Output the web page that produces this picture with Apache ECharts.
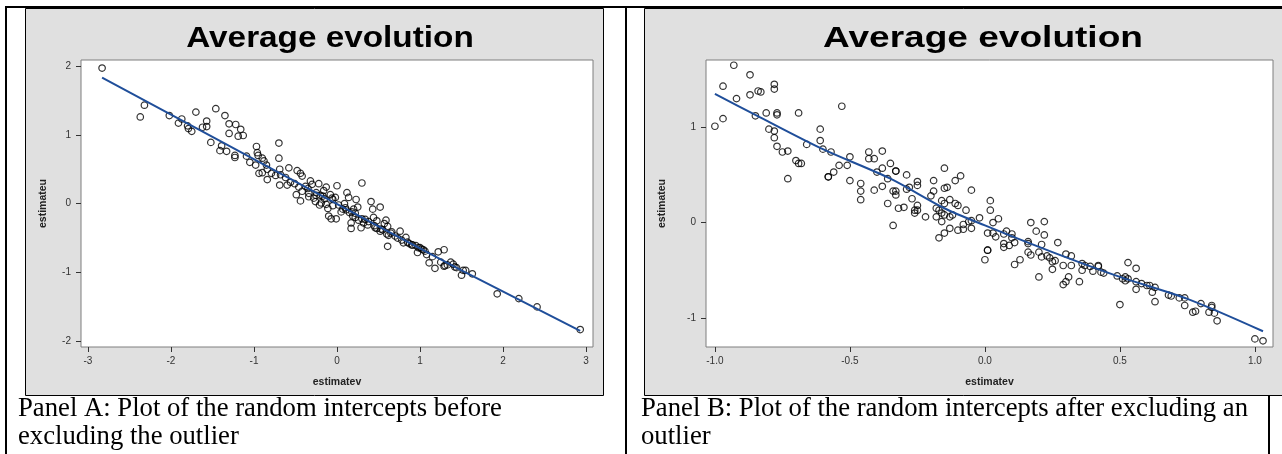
<!DOCTYPE html>
<html>
<head>
<meta charset="utf-8">
<script src="https://cdn.jsdelivr.net/npm/echarts@6/dist/echarts.min.js"></script>
<style>
  html, body { margin: 0; padding: 0; background: #fff; }
  #chart { width: 1282px; height: 454px; }
</style>
</head>
<body>
<div id="chart"></div>
<script>
// Panel A: before excluding the outlier
var aX = [-2.83, -2.37, -2.32, -2.02, -1.91, -1.87, -1.80, -1.79, -1.75, -1.70, -1.62, -1.57, -1.57, -1.52, -1.46,
  -1.39, -1.41, -1.35, -1.33, -1.30, -1.30, -1.22, -1.23, -1.23, -1.19, -1.16, -1.13, -1.09, -1.05, -0.98,
  -0.97, -0.96, -0.95, -0.94, -0.90, -0.88, -0.90, -0.85, -0.84, -0.84, -0.79, -0.74, -0.70, -0.70, -0.69,
  -0.68, -0.69, -0.62, -0.60, -0.58, -0.56, -0.51, -0.49, -0.48, -0.44, -0.42, -0.46, -0.44, -0.42, -0.38,
  -0.34, -0.32, -0.34, -0.30, -0.28, -0.26, -0.25, -0.22, -0.21, -0.19, -0.17, -0.16, -0.15, -0.13, -0.13,
  -0.11, -0.10, -0.08, -0.07, -0.06, -0.05, -0.02, -0.01, 0.00, 0.05, 0.07, 0.09, 0.11, 0.12, 0.14,
  0.15, 0.17, 0.17, 0.19, 0.20, 0.22, 0.23, 0.25, 0.26, 0.29, 0.30, 0.32, 0.34, 0.37, 0.41,
  0.43, 0.44, 0.46, 0.48, 0.52, 0.53, 0.57, 0.59, 0.61, 0.61, 0.62, 0.66, 0.73, 0.76, 0.80,
  0.83, 0.87, 0.91, 0.95, 0.97, 0.98, 1.02, 1.06, 1.08, 1.11, 1.15, 1.18, 1.22, 1.29, 1.25,
  1.29, 1.33, 1.37, 1.40, 1.44, 1.50, 1.52, 1.55, 1.63, 1.93, 2.19, 2.41, 2.93,
  0.55, 0.65, 0.70, 0.78, 0.85, 0.90, 1.00, 1.04, 0.22, 0.18, 0.30, 0.45, 0.38, -0.20, -0.25,
  -0.35, -0.05, 0.02, 0.10, 1.30, 1.42, 0.48, 0.52, 0.60];
var aY = [1.97, 1.26, 1.43, 1.28, 1.17, 1.23, 1.13, 1.09, 1.05, 1.33, 1.11, 1.20, 1.12, 0.89, 1.38,
  0.84, 0.77, 1.28, 0.76, 1.16, 1.02, 1.15, 0.70, 0.67, 0.98, 1.08, 0.99, 0.69, 0.60, 0.56,
  0.83, 0.74, 0.70, 0.44, 0.66, 0.62, 0.45, 0.56, 0.35, 0.50, 0.44, 0.41, 0.88, 0.66, 0.50,
  0.42, 0.27, 0.38, 0.27, 0.52, 0.31, 0.29, 0.13, 0.48, 0.44, 0.40, 0.24, 0.04, 0.18, 0.25,
  0.15, 0.33, 0.10, 0.28, 0.08, 0.03, 0.12, 0.29, -0.02, 0.01, 0.11, 0.19, 0.07, 0.24, -0.01,
  -0.07, -0.18, 0.13, -0.22, 0.08, -0.03, 0.09, -0.22, 0.26, -0.12, -0.08, 0.00, -0.09, 0.16, 0.09,
  -0.13, -0.36, -0.28, -0.18, -0.08, -0.20, 0.06, -0.05, -0.24, -0.35, 0.30, -0.28, -0.23, -0.31, 0.03,
  -0.08, -0.20, -0.35, -0.25, -0.05, -0.37, -0.29, -0.24, -0.33, -0.62, -0.46, -0.41, -0.50, -0.40, -0.57,
  -0.49, -0.58, -0.60, -0.61, -0.71, -0.64, -0.66, -0.69, -0.74, -0.86, -0.77, -0.94, -0.70, -0.67, -0.85,
  -0.91, -0.89, -0.85, -0.88, -0.93, -1.04, -0.97, -0.97, -1.02, -1.31, -1.38, -1.50, -1.83,
  -0.38, -0.43, -0.47, -0.53, -0.56, -0.60, -0.64, -0.67, -0.14, -0.12, -0.22, -0.32, -0.26, 0.12, 0.16,
  0.22, 0.06, -0.02, -0.06, -0.90, -0.92, -0.36, -0.40, -0.44];
var aLineX = [-2.83, -1.5, -0.5, 0.5, 1.5, 2.93];
var aLineY = [1.83, 0.97, 0.32, -0.33, -0.97, -1.85];

// Panel B: after excluding an outlier
var bX = [-1.00, -0.97, -0.97, -0.93, -0.92, -0.87, -0.87, -0.85, -0.84, -0.83, -0.81, -0.80, -0.78, -0.78, -0.78,
  -0.78, -0.77, -0.77, -0.77, -0.75, -0.73, -0.73, -0.70, -0.69, -0.69, -0.68, -0.66, -0.61, -0.61, -0.60,
  -0.58, -0.58, -0.57, -0.56, -0.54, -0.53, -0.51, -0.50, -0.50, -0.46, -0.46, -0.46, -0.43, -0.43, -0.41,
  -0.41, -0.40, -0.38, -0.38, -0.38, -0.36, -0.36, -0.35, -0.34, -0.34, -0.33, -0.33, -0.33, -0.33, -0.32,
  -0.30, -0.29, -0.29, -0.28, -0.27, -0.26, -0.26, -0.25, -0.25, -0.25, -0.25, -0.22, -0.20, -0.19, -0.19,
  -0.18, -0.18, -0.17, -0.17, -0.16, -0.16, -0.16, -0.15, -0.15, -0.15, -0.14, -0.15, -0.15, -0.13, -0.13,
  -0.13, -0.12, -0.11, -0.11, -0.10, -0.10, -0.09, -0.08, -0.08, -0.07, -0.06, -0.05, -0.05, -0.05, -0.02,
  0.00, 0.01, 0.01, 0.01, 0.02, 0.02, 0.03, 0.03, 0.04, 0.05, 0.07, 0.08, 0.07, 0.07, 0.09,
  0.10, 0.10, 0.11, 0.11, 0.13, 0.16, 0.16, 0.16, 0.17, 0.17, 0.19, 0.20, 0.20, 0.21, 0.21,
  0.22, 0.22, 0.23, 0.24, 0.25, 0.25, 0.26, 0.27, 0.29, 0.29, 0.30, 0.30, 0.31, 0.32, 0.32,
  0.35, 0.36, 0.36, 0.37, 0.39, 0.40, 0.42, 0.42, 0.43, 0.44, 0.49, 0.50, 0.51, 0.52, 0.52,
  0.53, 0.53, 0.56, 0.56, 0.56, 0.58, 0.60, 0.61, 0.62, 0.63, 0.63, 0.68, 0.69, 0.72, 0.74,
  0.74, 0.77, 0.78, 0.80, 0.83, 0.84, 0.84, 0.85, 0.86, 1.00, 1.03];
var bY = [1.01, 1.09, 1.43, 1.65, 1.30, 1.55, 1.34, 1.12, 1.38, 1.37, 1.15, 0.98, 1.45, 1.40, 0.96,
  0.89, 1.15, 1.13, 0.80, 0.74, 0.75, 0.46, 0.65, 1.15, 0.62, 0.62, 0.82, 0.86, 0.98, 0.77,
  0.48, 0.48, 0.74, 0.53, 0.60, 1.22, 0.60, 0.69, 0.44, 0.41, 0.33, 0.24, 0.74, 0.67, 0.67,
  0.34, 0.53, 0.57, 0.75, 0.38, 0.46, 0.20, 0.62, 0.33, -0.03, 0.54, 0.54, 0.29, 0.33, 0.15,
  0.16, 0.50, 0.35, 0.37, 0.25, 0.13, 0.10, 0.43, 0.18, 0.39, 0.13, 0.06, 0.28, 0.33, 0.44,
  0.06, 0.15, 0.13, -0.16, 0.01, 0.10, 0.23, 0.20, 0.57, 0.36, 0.37, 0.08, -0.11, 0.24, -0.06,
  0.06, 0.08, 0.44, 0.20, -0.08, 0.18, 0.49, -0.07, -0.02, 0.13, 0.01, 0.34, 0.02, -0.06, 0.05,
  -0.39, -0.29, -0.29, -0.11, 0.23, 0.13, 0.00, -0.11, -0.15, 0.04, -0.12, -0.09, -0.22, -0.26, -0.24,
  -0.16, -0.12, -0.44, -0.21, -0.39, -0.22, -0.20, -0.31, -0.34, 0.00, -0.09, -0.57, -0.31, -0.23, -0.36,
  0.01, -0.13, -0.35, -0.37, -0.49, -0.41, -0.40, -0.21, -0.45, -0.65, -0.62, -0.33, -0.57, -0.35, -0.45,
  -0.62, -0.50, -0.43, -0.45, -0.46, -0.51, -0.46, -0.45, -0.52, -0.53, -0.56, -0.86, -0.59, -0.57, -0.61,
  -0.42, -0.59, -0.62, -0.48, -0.70, -0.64, -0.66, -0.66, -0.73, -0.68, -0.83, -0.76, -0.77, -0.79, -0.87,
  -0.79, -0.94, -0.93, -0.85, -0.94, -0.87, -0.89, -0.95, -1.03, -1.22, -1.24];
var bLineX = [-1.0, -0.85, -0.6, -0.35, -0.15, 0.0, 0.25, 0.5, 0.75, 1.03];
var bLineY = [1.35, 1.13, 0.77, 0.46, 0.15, -0.03, -0.31, -0.57, -0.80, -1.14];

// tick labels
var aXTicks = [-3, -2, -1, 0, 1, 2, 3];
var aYTicks = [-2, -1, 0, 1, 2];
var bXTicks = [-1, -0.5, 0, 0.5, 1];
var bYTicks = [-1, 0, 1];

var titleText = 'Average evolution';
var captionA = ['Panel A: Plot of the random intercepts before', 'excluding the outlier'];
var captionB = ['Panel B: Plot of the random intercepts after excluding an', 'outlier'];

function pairs(xs, ys) {
  return xs.map(function (x, i) { return [x, ys[i]]; });
}

var chart = echarts.init(document.getElementById('chart'));

function makeX(idx, min, max, ticks, fmt) {
  return {
    type: 'value', gridIndex: idx, min: min, max: max, z: 6,
    name: 'estimatev', nameLocation: 'middle', nameGap: 30,
    nameTextStyle: { fontFamily: 'Liberation Sans', fontWeight: 'bold', fontSize: 10.5, color: '#222' },
    splitLine: { show: false },
    axisLine: { show: false, onZero: false },
    axisTick: { show: true, length: 5, customValues: ticks, lineStyle: { color: '#333' } },
    axisLabel: {
      customValues: ticks, margin: 9, fontSize: 10, fontFamily: 'Liberation Sans', color: '#333',
      formatter: fmt
    }
  };
}
function makeY(idx, min, max, ticks, gap) {
  return {
    type: 'value', gridIndex: idx, min: min, max: max, z: 6,
    name: 'estimateu', nameLocation: 'middle', nameGap: gap, nameRotate: 90,
    nameTextStyle: { fontFamily: 'Liberation Sans', fontWeight: 'bold', fontSize: 10.5, color: '#222' },
    splitLine: { show: false },
    axisLine: { show: false, onZero: false },
    axisTick: { show: true, length: 5, customValues: ticks, lineStyle: { color: '#333' } },
    axisLabel: { customValues: ticks, margin: 10, fontSize: 10, fontFamily: 'Liberation Sans', color: '#333' }
  };
}

var scatterStyle = { color: 'rgba(0,0,0,0)', borderColor: '#000', borderWidth: 1.2 };
var lineStyle = { color: '#1f4e9a', width: 2 };

function captionEl(x, y, text) {
  return {
    type: 'text', x: x, y: y, z: 10,
    style: { text: text, fontFamily: 'Liberation Serif', fontSize: 26.7, fill: '#000',
      textAlign: 'left', textVerticalAlign: 'middle' }
  };
}
function titleEl(x, sx) {
  return {
    type: 'text', x: x, y: 39, scaleX: sx, z: 10,
    style: { text: titleText, fontFamily: 'Liberation Sans', fontWeight: 'bold', fontSize: 30, fill: '#000',
      textAlign: 'center', textVerticalAlign: 'middle' }
  };
}
function lineEl(x1, y1, x2, y2, w) {
  return { type: 'line', z: 9, shape: { x1: x1, y1: y1, x2: x2, y2: y2 }, style: { stroke: '#000', lineWidth: w } };
}

chart.setOption({
  animation: false,
  graphic: [
    { type: 'rect', z: 1, shape: { x: 25.5, y: 8.5, width: 578, height: 387 }, style: { fill: '#e0e0e0', stroke: '#000', lineWidth: 1 } },
    { type: 'rect', z: 1, shape: { x: 644.5, y: 8.5, width: 660, height: 387 }, style: { fill: '#e0e0e0', stroke: '#000', lineWidth: 1 } },
    lineEl(6, 7, 1282, 7, 2),
    lineEl(6, 6, 6, 454, 2),
    lineEl(626, 6, 626, 454, 2),
    lineEl(1269, 395, 1269, 454, 2),
    titleEl(330, 1.11),
    titleEl(983, 1.235),
    captionEl(18, 409, captionA[0]),
    captionEl(18, 437, captionA[1]),
    captionEl(641, 409, captionB[0]),
    captionEl(641, 437, captionB[1])
  ],
  grid: [
    { left: 81, top: 60, width: 512, height: 287, show: true, z: 5, backgroundColor: '#fff', borderColor: '#7f7f7f', borderWidth: 1 },
    { left: 706, top: 60, width: 567, height: 287, show: true, z: 5, backgroundColor: '#fff', borderColor: '#7f7f7f', borderWidth: 1 }
  ],
  xAxis: [
    makeX(0, -3.084, 3.084, aXTicks, function (v) { return String(v); }),
    makeX(1, -1.033, 1.067, bXTicks, function (v) { return v.toFixed(1); })
  ],
  yAxis: [
    makeY(0, -2.083, 2.087, aYTicks, 32),
    makeY(1, -1.305, 1.705, bYTicks, 38)
  ],
  series: [
    { type: 'scatter', xAxisIndex: 0, yAxisIndex: 0, z: 7, symbol: 'circle', symbolSize: 6.5,
      itemStyle: scatterStyle, data: pairs(aX, aY) },
    { type: 'line', xAxisIndex: 0, yAxisIndex: 0, z: 8, showSymbol: false, lineStyle: lineStyle,
      data: pairs(aLineX, aLineY) },
    { type: 'scatter', xAxisIndex: 1, yAxisIndex: 1, z: 7, symbol: 'circle', symbolSize: 6.5,
      itemStyle: scatterStyle, data: pairs(bX, bY) },
    { type: 'line', xAxisIndex: 1, yAxisIndex: 1, z: 8, showSymbol: false, smooth: 0.3, lineStyle: lineStyle,
      data: pairs(bLineX, bLineY) }
  ]
});
</script>
</body>
</html>
